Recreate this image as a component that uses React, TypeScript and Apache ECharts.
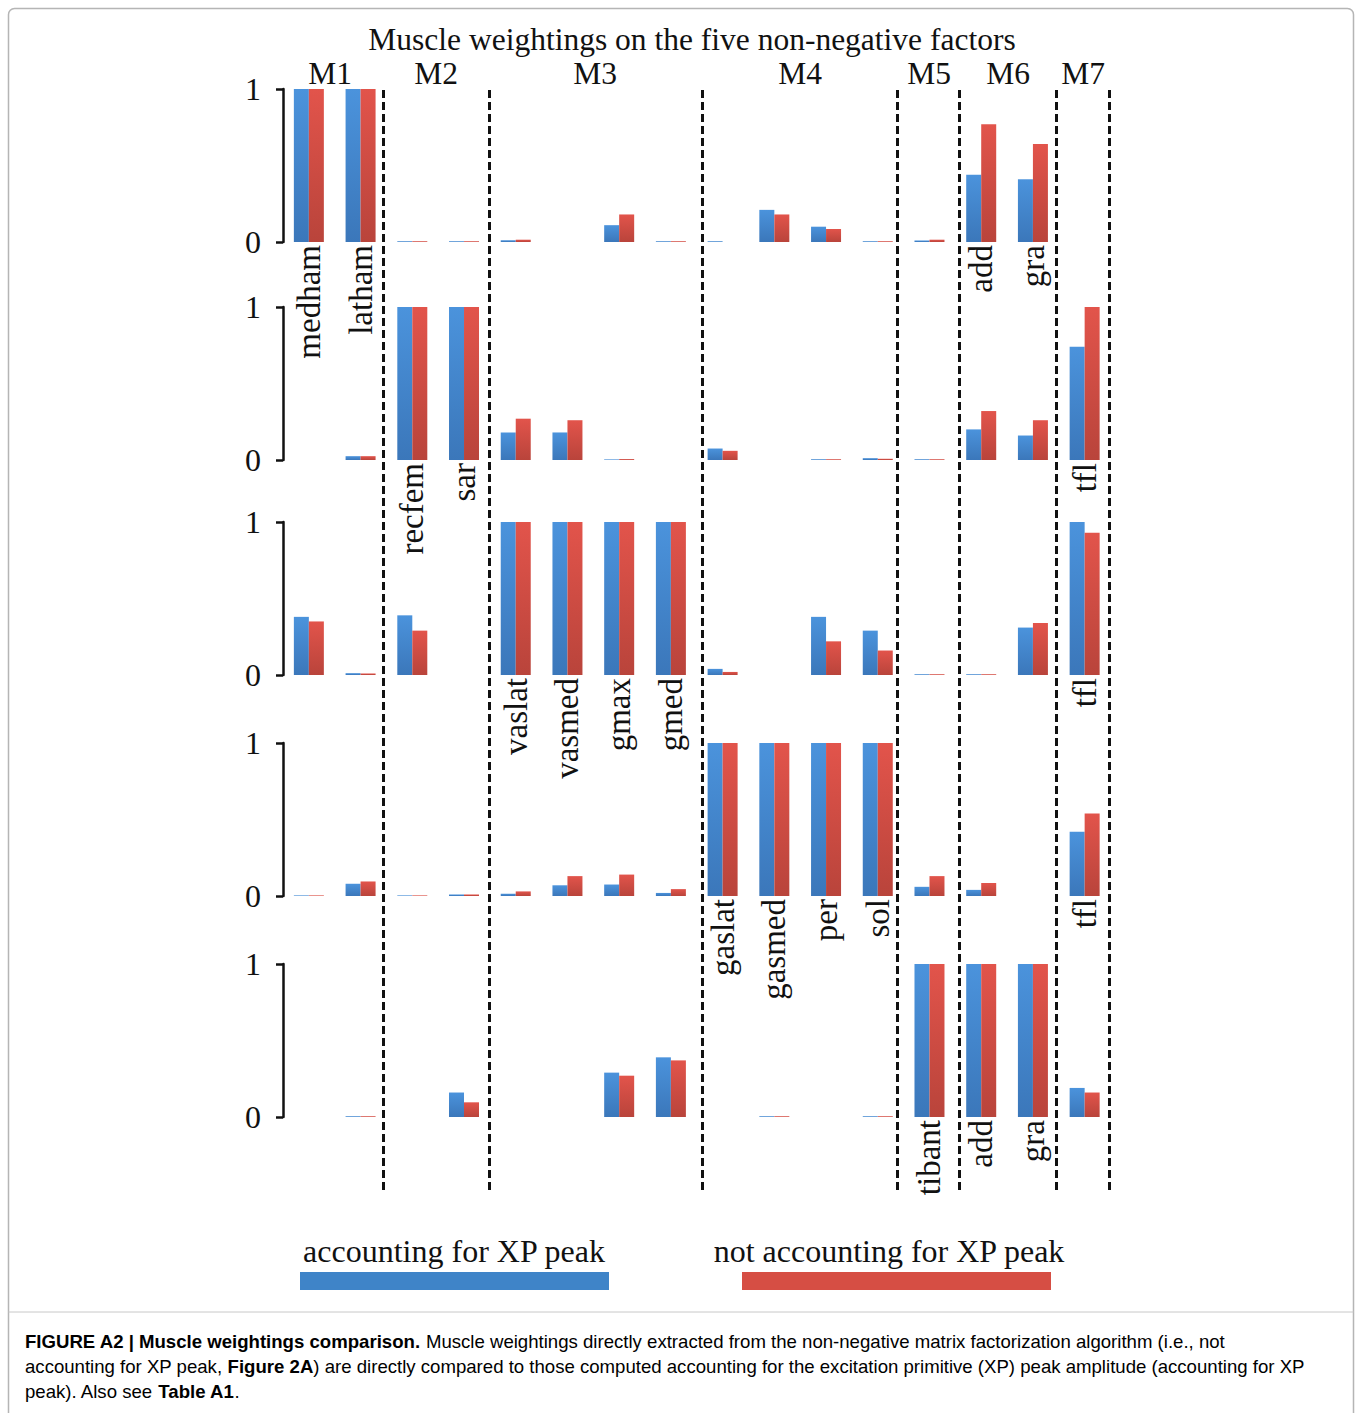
import React, { useEffect, useRef } from "react";
import * as echarts from "echarts";

// ---------- data ----------
const muscles = [
  "medham", "latham", "recfem", "sar", "vaslat", "vasmed", "gmax", "gmed",
  "gaslat", "gasmed", "per", "sol", "tibant", "add", "gra", "tfl",
];
const groupNames = ["M1", "M2", "M3", "M4", "M5", "M6", "M7"];
const seriesNames = ["accounting for XP peak", "not accounting for XP peak"];
const yTickValues = [0, 1];

// factor 1..5, accounting for XP peak (blue) / not accounting (red)
const f1Acc = [1, 1, 0.005, 0.005, 0.012, 0, 0.11, 0.005, 0.005, 0.21, 0.1, 0.005, 0.01, 0.44, 0.41, 0];
const f1Not = [1, 1, 0.005, 0.005, 0.015, 0, 0.18, 0.005, 0, 0.18, 0.085, 0.005, 0.015, 0.77, 0.64, 0];
const f2Acc = [0, 0.025, 1, 1, 0.18, 0.18, 0.004, 0, 0.075, 0, 0.005, 0.012, 0.005, 0.2, 0.16, 0.74];
const f2Not = [0, 0.025, 1, 1, 0.27, 0.26, 0.006, 0, 0.06, 0, 0.005, 0.008, 0.005, 0.32, 0.26, 1.0];
const f3Acc = [0.38, 0.012, 0.39, 0, 1, 1, 1, 1, 0.04, 0, 0.38, 0.29, 0.005, 0.005, 0.31, 1.0];
const f3Not = [0.35, 0.01, 0.29, 0, 1, 1, 1, 1, 0.02, 0, 0.22, 0.16, 0.005, 0.005, 0.34, 0.93];
const f4Acc = [0.004, 0.08, 0.004, 0.01, 0.015, 0.07, 0.075, 0.02, 1, 1, 1, 1, 0.06, 0.04, 0, 0.42];
const f4Not = [0.004, 0.095, 0.004, 0.01, 0.03, 0.13, 0.14, 0.045, 1, 1, 1, 1, 0.13, 0.085, 0, 0.54];
const f5Acc = [0, 0.005, 0, 0.16, 0, 0, 0.29, 0.39, 0, 0.005, 0, 0.005, 1, 1, 1, 0.19];
const f5Not = [0, 0.005, 0, 0.096, 0, 0, 0.27, 0.37, 0, 0.005, 0, 0.005, 1, 1, 1, 0.16];

// muscle names printed under each factor row
const f1Labels = ["medham", "latham", "add", "gra"];
const f2Labels = ["recfem", "sar", "tfl"];
const f3Labels = ["vaslat", "vasmed", "gmax", "gmed", "tfl"];
const f4Labels = ["gaslat", "gasmed", "per", "sol", "tfl"];
const f5Labels = ["tibant", "add", "gra"];

const accRows = [f1Acc, f2Acc, f3Acc, f4Acc, f5Acc];
const notRows = [f1Not, f2Not, f3Not, f4Not, f5Not];
const labelRows = [f1Labels, f2Labels, f3Labels, f4Labels, f5Labels];

// ---------- layout ----------
const SERIF = "'Liberation Serif', 'Times New Roman', serif";
const SANS = "'Liberation Sans', Arial, sans-serif";
const GRID_LEFT = 283;
const GRID_RIGHT = 246.5;
const GRID_TOPS = [89, 307, 522, 743, 964];
const GRID_H = 153;
const SEPARATORS = [1.93, 3.98, 8.1, 11.87, 13.07, 14.95, 15.97]; // in category units
const GROUP_X = [330, 436, 595, 800, 929, 1008, 1083];

const blueGrad = new echarts.graphic.LinearGradient(0, 0, 0, 1, [
  { offset: 0, color: "#4b93dc" },
  { offset: 1, color: "#3b77ba" },
]);
const redGrad = new echarts.graphic.LinearGradient(0, 0, 0, 1, [
  { offset: 0, color: "#e2544b" },
  { offset: 1, color: "#b9443b" },
]);

export default function App() {
  const ref = useRef<HTMLDivElement>(null);

  useEffect(() => {
    if (!ref.current) return;
    const chart = echarts.init(ref.current, undefined, { renderer: "svg" });

    const grids: any[] = GRID_TOPS.map((t) => ({
      left: GRID_LEFT,
      right: GRID_RIGHT,
      top: t,
      height: GRID_H,
    }));
    grids.push({ left: GRID_LEFT, right: GRID_RIGHT, top: 87, height: 1103 });

    const xAxes: any[] = GRID_TOPS.map((_, i) => ({
      type: "category",
      gridIndex: i,
      data: muscles,
      axisLine: { show: false },
      axisTick: { show: false },
      axisLabel: {
        interval: 0,
        rotate: 90,
        margin: 3,
        fontFamily: SERIF,
        fontSize: 33,
        color: "#111",
        hideOverlap: false,
        formatter: (v: string) => (labelRows[i].includes(v) ? v : ""),
      },
    }));
    xAxes.push({ type: "value", gridIndex: 5, min: 0, max: 16, show: false });

    const yAxes: any[] = GRID_TOPS.map((_, i) => ({
      type: "value",
      gridIndex: i,
      min: yTickValues[0],
      max: yTickValues[1],
      interval: 1,
      axisLine: { show: true, lineStyle: { color: "#111", width: 2.5 } },
      axisTick: { show: true, length: 7, lineStyle: { color: "#111", width: 2.5 } },
      splitLine: { show: false },
      axisLabel: { margin: 22, fontSize: 32, fontFamily: SERIF, color: "#111" },
    }));
    yAxes.push({ type: "value", gridIndex: 5, min: 0, max: 1, show: false });

    const series: any[] = [];
    GRID_TOPS.forEach((_, i) => {
      series.push({
        type: "bar",
        name: seriesNames[0],
        xAxisIndex: i,
        yAxisIndex: i,
        data: accRows[i],
        barWidth: 15,
        barGap: "0%",
        itemStyle: { color: blueGrad },
      });
      series.push({
        type: "bar",
        name: seriesNames[1],
        xAxisIndex: i,
        yAxisIndex: i,
        data: notRows[i],
        barWidth: 15,
        barGap: "0%",
        itemStyle: { color: redGrad },
      });
    });
    series.push({
      type: "line",
      xAxisIndex: 5,
      yAxisIndex: 5,
      data: [],
      silent: true,
      markLine: {
        silent: true,
        symbol: "none",
        label: { show: false },
        lineStyle: { color: "#111", width: 3, type: [8, 4] },
        data: SEPARATORS.map((v) => ({ xAxis: v })),
      },
    });

    const graphic: any[] = [
      {
        type: "rect",
        shape: { x: 8.5, y: 8.5, width: 1345, height: 1420, r: 6 },
        style: { fill: "none", stroke: "#b5b5b5", lineWidth: 1.5 },
        z: -1,
      },
      {
        type: "line",
        shape: { x1: 8.5, y1: 1312, x2: 1353.5, y2: 1312 },
        style: { stroke: "#c8c8c8", lineWidth: 1 },
      },
      {
        type: "text",
        x: 692,
        y: 39,
        style: {
          text: "Muscle weightings on the five non-negative factors",
          font: `31.5px ${SERIF}`,
          lineHeight: 30,
          fill: "#111",
          align: "center",
          verticalAlign: "middle",
        },
      },
      ...groupNames.map((g, k) => ({
        type: "text",
        x: GROUP_X[k],
        y: 73,
        style: {
          text: g,
          font: `31.5px ${SERIF}`,
          lineHeight: 30,
          fill: "#111",
          align: "center",
          verticalAlign: "middle",
        },
      })),
      {
        type: "text",
        x: 454,
        y: 1251,
        style: {
          text: seriesNames[0],
          font: `32px ${SERIF}`,
          fill: "#111",
          align: "center",
          verticalAlign: "middle",
        },
      },
      {
        type: "text",
        x: 889,
        y: 1251,
        style: {
          text: seriesNames[1],
          font: `32px ${SERIF}`,
          fill: "#111",
          align: "center",
          verticalAlign: "middle",
        },
      },
      {
        type: "rect",
        shape: { x: 300, y: 1272, width: 309, height: 18 },
        style: { fill: "#3f84c8" },
      },
      {
        type: "rect",
        shape: { x: 742, y: 1272, width: 309, height: 18 },
        style: { fill: "#d64e44" },
      },
    ];

    const capRich = {
      b: { fontFamily: SANS, fontSize: 18.6, fontWeight: "bold", color: "#111" },
      n: { fontFamily: SANS, fontSize: 18.6, color: "#444" },
    };
    const capLines = [
      "{b|FIGURE A2 | Muscle weightings comparison.}{n| Muscle weightings directly extracted from the non-negative matrix factorization algorithm (i.e., not}",
      "{n|accounting for XP peak, }{b|Figure 2A}{n|) are directly compared to those computed accounting for the excitation primitive (XP) peak amplitude (accounting for XP}",
      "{n|peak). Also see }{b|Table A1}{n|.}",
    ];
    capLines.forEach((t, k) => {
      graphic.push({
        type: "text",
        x: 25,
        y: 1341 + k * 25,
        style: {
          text: t,
          rich: capRich,
          verticalAlign: "middle",
          align: "left",
        },
      });
    });

    chart.setOption({
      animation: false,
      backgroundColor: "#ffffff",
      grid: grids,
      xAxis: xAxes,
      yAxis: yAxes,
      series,
      graphic,
    });

    return () => chart.dispose();
  }, []);

  return (
    <div
      ref={ref}
      style={{ position: "absolute", left: 0, top: 0, width: 1357, height: 1413, background: "#fff" }}
    />
  );
}
